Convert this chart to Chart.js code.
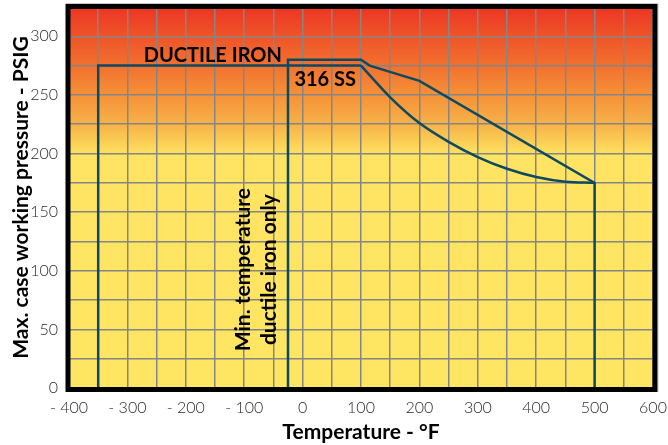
<!DOCTYPE html>
<html>
<head>
<meta charset="utf-8">
<script src="https://cdn.jsdelivr.net/npm/chart.js@4.4.1/dist/chart.umd.min.js"></script>
<style>
  html, body { margin: 0; padding: 0; background: #fff; }
</style>
</head>
<body>
<canvas id="chart" width="668" height="445"></canvas>
<script>
// temperature (°F) / pressure (PSIG)
const ductileTemp = [-350, -350, 100];
const ductilePsi = [0, 275, 275];
const ductileCurveTemp = [100, 150, 200, 250, 300, 350, 400, 450, 500];
const ductileCurvePsi = [275, 248, 226, 210, 197, 187, 180, 176, 175];
const ssTemp = [-25, -25, 100, 115, 200, 500, 500];
const ssPsi = [0, 280, 280, 275, 262, 175, 0];

const xTicks = [-400, -300, -200, -100, 0, 100, 200, 300, 400, 500, 600];
const yTicks = [0, 50, 100, 150, 200, 250, 300];

const lineColor = '#0d4a62';
const fontFamily = 'Lato, "Open Sans", sans-serif';

const toPoints = (xs, ys) => xs.map((x, i) => ({ x: x, y: ys[i] }));

const lineSet = (xs, ys, extra) => Object.assign({
  data: toPoints(xs, ys),
  showLine: true,
  borderColor: lineColor,
  borderWidth: 2.5,
  pointRadius: 0,
  fill: false,
  tension: 0
}, extra || {});

const fmtTemp = (v) => v < 0 ? '- ' + Math.abs(v) : String(v);

const decor = {
  id: 'decor',
  beforeDraw(chart) {
    const { ctx, chartArea: a } = chart;
    const g = ctx.createLinearGradient(0, a.top, 0, a.bottom);
    g.addColorStop(0, '#ed3524');
    g.addColorStop(0.08, '#ef5529');
    g.addColorStop(0.16, '#f2732f');
    g.addColorStop(0.235, '#f59339');
    g.addColorStop(0.31, '#f7b349');
    g.addColorStop(0.36, '#fbd257');
    g.addColorStop(0.39, '#fee462');
    g.addColorStop(1, '#fee562');
    ctx.save();
    ctx.fillStyle = g;
    ctx.fillRect(a.left, a.top, a.right - a.left, a.bottom - a.top);
    ctx.restore();
  },
  afterDraw(chart) {
    const { ctx, chartArea: a } = chart;
    const x = chart.scales.x, y = chart.scales.y;
    ctx.save();
    // frame
    ctx.strokeStyle = '#c8c8c8';
    ctx.lineWidth = 1;
    ctx.beginPath();
    ctx.moveTo(a.left - 3, a.top - 3.5);
    ctx.lineTo(a.right + 5, a.top - 3.5);
    ctx.lineTo(a.right + 5, a.bottom + 4);
    ctx.stroke();
    ctx.strokeStyle = '#000';
    ctx.lineWidth = 5;
    ctx.strokeRect(a.left - 1, a.top - 0.5, a.right - a.left + 3, a.bottom - a.top + 2);

    // labels
    ctx.fillStyle = '#000';
    ctx.font = 'bold 20px ' + fontFamily;
    ctx.textBaseline = 'alphabetic';
    ctx.textAlign = 'left';
    ctx.fillText('DUCTILE IRON', x.getPixelForValue(-272), y.getPixelForValue(278));
    ctx.fillText('316 SS', x.getPixelForValue(-14), y.getPixelForValue(258));

    const cy = y.getPixelForValue(101);
    ctx.textAlign = 'center';
    ctx.font = 'bold 21px ' + fontFamily;
    [['Min. temperature', -90], ['ductile iron only', -45]].forEach(([t, v]) => {
      ctx.save();
      ctx.translate(x.getPixelForValue(v), cy);
      ctx.rotate(-Math.PI / 2);
      ctx.fillText(t, 0, 0);
      ctx.restore();
    });
    ctx.restore();
  }
};

new Chart(document.getElementById('chart'), {
  type: 'scatter',
  data: {
    datasets: [
      lineSet(ductileTemp, ductilePsi),
      lineSet(ductileCurveTemp, ductileCurvePsi, { cubicInterpolationMode: 'monotone' }),
      lineSet(ssTemp, ssPsi)
    ]
  },
  options: {
    responsive: false,
    animation: false,
    layout: { padding: { top: 7, right: 15, left: 0, bottom: 0 } },
    plugins: { legend: { display: false }, tooltip: { enabled: false } },
    scales: {
      x: {
        type: 'linear',
        min: xTicks[0],
        max: xTicks[xTicks.length - 1],
        afterFit(scale) {
          scale.height = 57;
          scale.paddingLeft = 0;
          scale.paddingRight = 0;
        },
        border: { display: false },
        grid: { color: '#858585', lineWidth: 1.5, drawTicks: false },
        ticks: {
          stepSize: 50,
          autoSkip: false,
          maxRotation: 0,
          padding: 10,
          color: '#2a2a2a',
          font: { family: fontFamily, size: 16, weight: '300' },
          callback: (v) => xTicks.includes(v) ? fmtTemp(v) : ''
        },
        title: {
          display: true,
          text: 'Temperature - °F',
          color: '#000',
          font: { family: fontFamily, size: 21, weight: 'bold' },
          padding: { top: 0, bottom: 0 }
        }
      },
      y: {
        min: 0,
        max: 325,
        afterFit(scale) {
          scale.width = 69;
          scale.paddingTop = 0;
          scale.paddingBottom = 0;
        },
        border: { display: false },
        grid: { color: '#858585', lineWidth: 1.5, drawTicks: false },
        ticks: {
          stepSize: 25,
          autoSkip: false,
          padding: 11,
          color: '#2a2a2a',
          font: { family: fontFamily, size: 16, weight: '300' },
          callback: (v) => yTicks.includes(v) ? String(v) : ''
        },
        title: {
          display: true,
          text: 'Max. case working pressure - PSIG',
          color: '#000',
          font: { family: fontFamily, size: 21, weight: 'bold' },
          padding: { top: 9, bottom: 0 }
        }
      }
    }
  },
  plugins: [decor]
});
</script>
</body>
</html>
